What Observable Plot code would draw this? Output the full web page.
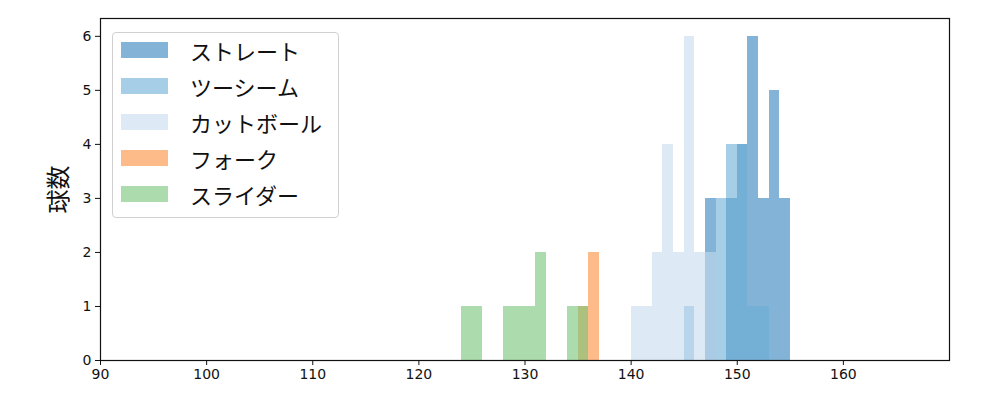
<!DOCTYPE html>
<html>
<head>
<meta charset="utf-8">
<script src="https://cdn.jsdelivr.net/npm/d3@7"></script>
<script src="https://cdn.jsdelivr.net/npm/@observablehq/plot@0.6"></script>
<style>
  body { margin: 0; background: #fff; }
  #wrap { position: relative; width: 1000px; height: 400px; }
  #legend {
    position: absolute; left: 112px; top: 32px; width: 227px; height: 186px;
    border: 1px solid #d0d0d0; border-radius: 4px; background: rgba(255,255,255,0.8);
    box-sizing: border-box; font-family: "Noto Sans CJK JP", sans-serif; font-size: 22px; color: #111;
  }
  .row { position: absolute; left: 8px; height: 22px; display: flex; align-items: center; }
  .sw { width: 47px; height: 16px; margin-right: 22px; }
</style>
</head>
<body>
<div id="wrap"><div id="legend"></div></div>
<script>
const seriesNames = ["ストレート", "ツーシーム", "カットボール", "フォーク", "スライダー"];
const seriesColors = ["#3182bd", "#6baed6", "#c6dbef", "#fd8d3c", "#74c476"];
const binWidth = 1;
// bin start (km/h) and counts per pitch type
const straightBins = [147, 149, 150, 151, 152, 153, 154];
const straightCounts = [3, 3, 4, 6, 3, 5, 3];
const twoSeamBins = [145, 148, 149, 150, 151, 152];
const twoSeamCounts = [1, 3, 4, 4, 1, 1];
const cutBins = [140, 141, 142, 143, 144, 145, 146, 147];
const cutCounts = [1, 1, 2, 4, 2, 6, 2, 2];
const forkBins = [135, 136];
const forkCounts = [1, 2];
const sliderBins = [124, 125, 128, 129, 130, 131, 134, 135];
const sliderCounts = [1, 1, 1, 1, 1, 2, 1, 1];
const xTicks = [90, 100, 110, 120, 130, 140, 150, 160];
const yTicks = [0, 1, 2, 3, 4, 5, 6];

const allBins = [straightBins, twoSeamBins, cutBins, forkBins, sliderBins];
const allCounts = [straightCounts, twoSeamCounts, cutCounts, forkCounts, sliderCounts];

const marks = [];
allBins.forEach((bins, i) => {
  const data = bins.map((b, j) => ({x1: b, x2: b + binWidth, y: allCounts[i][j]}));
  marks.push(Plot.rectY(data, {x1: "x1", x2: "x2", y: "y", fill: seriesColors[i], fillOpacity: 0.6, inset: 0, shapeRendering: "crispEdges"}));
});
marks.push(Plot.frame({stroke: "#111", strokeWidth: 1.2}));

const chart = Plot.plot({
  width: 1000, height: 400,
  marginLeft: 100, marginRight: 51, marginTop: 18, marginBottom: 40,
  style: {fontFamily: "DejaVu Sans, sans-serif", fontSize: "14px", color: "#111", background: "#fff"},
  x: {domain: [90, 170], ticks: xTicks, tickFormat: d => String(d), label: null, tickSize: 5, tickPadding: 4},
  y: {domain: [0, 6.33], ticks: yTicks, tickFormat: d => String(d), label: "球数", labelAnchor: "center", labelArrow: "none", labelOffset: 51, tickSize: 5, tickPadding: 4},
  marks
});
document.getElementById("wrap").prepend(chart);
// style y label
d3.select(chart).selectAll("text").filter(function() { return this.textContent === "球数"; })
  .style("font-family", "Noto Sans CJK JP, sans-serif").style("font-size", "24px").attr("font-size", "24px");

const legend = document.getElementById("legend");
seriesNames.forEach((n, i) => {
  const row = document.createElement("div");
  row.className = "row";
  row.style.top = (6 + i * 36) + "px";
  const sw = document.createElement("div");
  sw.className = "sw";
  sw.style.background = seriesColors[i];
  sw.style.opacity = 0.6;
  const t = document.createElement("span");
  t.textContent = n;
  row.appendChild(sw); row.appendChild(t);
  legend.appendChild(row);
});
</script>
</body>
</html>
